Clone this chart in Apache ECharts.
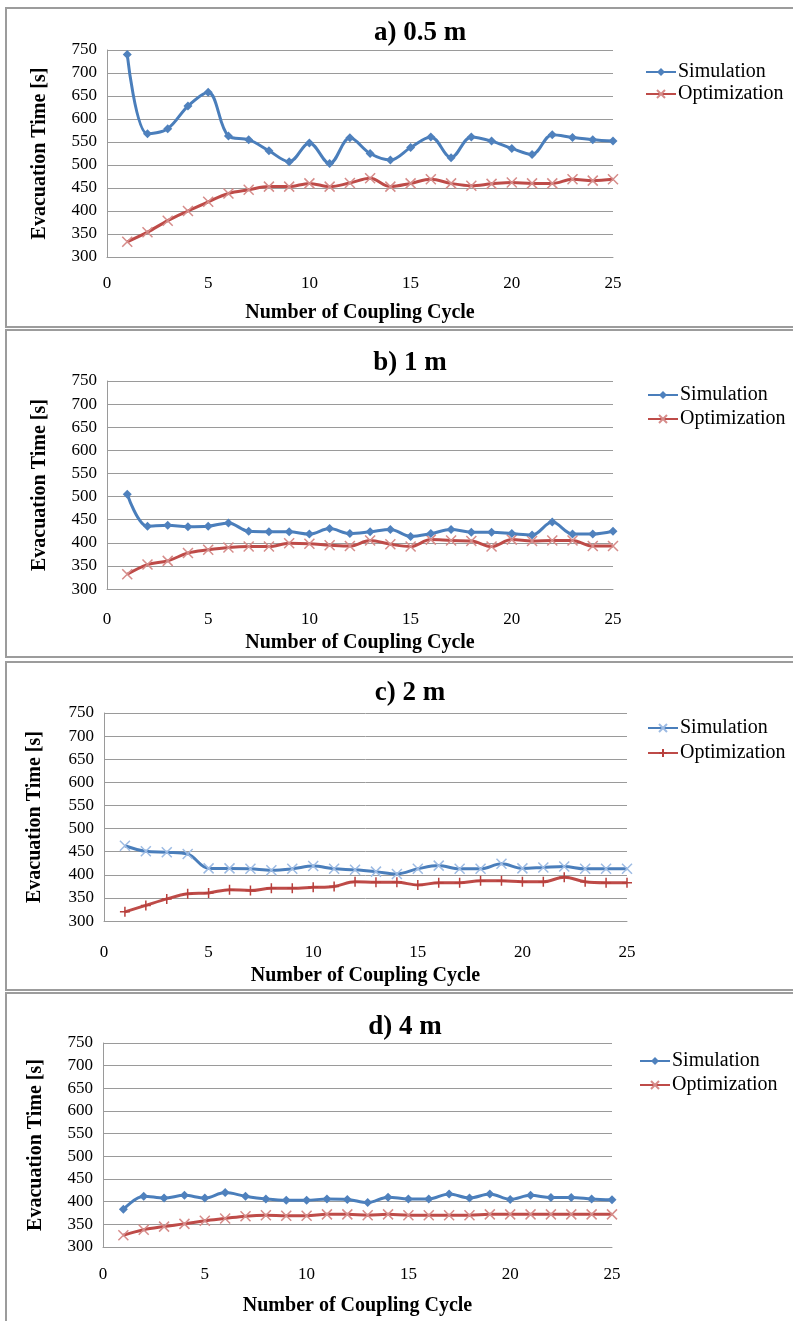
<!DOCTYPE html>
<html>
<head>
<meta charset="utf-8">
<script src="https://cdn.jsdelivr.net/npm/echarts@6/dist/echarts.min.js"></script>
<style>
html,body{margin:0;padding:0;background:#fff;}
body{width:793px;height:1321px;position:relative;overflow:hidden;}
.panel{position:absolute;left:0;width:793px;}
</style>
</head>
<body>
<div id="pa" class="panel"></div>
<div id="pb" class="panel"></div>
<div id="pc" class="panel"></div>
<div id="pd" class="panel"></div>
<script>
// ---- data ----
const cycles = [1,2,3,4,5,6,7,8,9,10,11,12,13,14,15,16,17,18,19,20,21,22,23,24,25];
const xTicks = [0,5,10,15,20,25];
const yTicks = [300,350,400,450,500,550,600,650,700,750];
const panelTitles = ['a) 0.5 m','b) 1 m','c) 2 m','d) 4 m'];
const seriesNames = ['Simulation','Optimization'];
const xAxisTitle = 'Number of Coupling Cycle';
const yAxisTitle = 'Evacuation Time [s]';

const simA = [740,568,579,628,658,563,555,531,507,548,503,559,525,511,538,561,516,561,552,536,523,566,560,555,552];
const optA = [333,354,379,400,420,438,446,453,453,460,453,461,471,453,460,469,460,455,459,462,460,460,469,466,469];
const simB = [505,436,438,435,436,443,425,424,424,419,431,420,424,429,414,420,429,423,423,420,417,445,419,419,425];
const optB = [332,353,361,378,385,390,392,392,399,398,395,393,405,397,392,407,405,404,392,407,404,405,405,393,393];
const simC = [463,451,449,445,414,414,413,410,413,419,413,411,407,402,413,420,413,413,424,414,416,418,413,413,413];
const optC = [320,334,348,359,361,368,366,371,371,373,375,385,384,384,378,383,383,387,387,385,385,395,385,383,383];
const simD = [383,412,408,414,408,420,412,406,403,403,406,405,398,410,406,406,417,408,417,405,414,409,409,406,404];
const optD = [326,338,345,351,358,363,368,370,369,369,372,372,370,372,370,370,370,370,372,372,372,372,372,372,372];

// ---- styling / layout ----
const SERIF = "'Liberation Serif','Times New Roman',serif";
const BLUE = '#4A7EBB', BLUE_MK = '#4F81BD', BLUE_LIGHT = '#9DBBE3';
const RED = '#BE4B48', RED_MK = '#D68C8A', RED_DARK = '#B8403D';
const GRID_C = '#9A9A9A';
const SYM_X = 'path://M0,0L10,10M10,0L0,10';
const SYM_PLUS = 'path://M5,0L5,10M0,5L10,5';

const layouts = [
  {id:'pa', T:7,   H:321, gt:50,   gb:257,  gl:107, gr:613, tx:415, ty:30,   xl:284,  xt:313,  yt:40, lx:640, ly:67,   lg:22, sim:simA, opt:optA, simSym:'diamond', optSym:SYM_X},
  {id:'pb', T:329, H:329, gt:381,  gb:599,  gl:107, gr:613, tx:405, ty:360,  xl:630,  xt:647,  yt:40, lx:642, ly:390,  lg:24, sim:simB, opt:optB, simSym:'diamond', optSym:SYM_X},
  {id:'pc', T:661, H:330, gt:713,  gb:923,  gl:104, gr:627, tx:405, ty:690,  xl:955,  xt:977,  yt:35, lx:642, ly:723,  lg:25, sim:simC, opt:optC, simSym:SYM_X,     optSym:SYM_PLUS},
  {id:'pd', T:992, H:329, gt:1043, gb:1251, gl:103, gr:612, tx:400, ty:1024, xl:1279, xt:1310, yt:36, lx:634, ly:1056, lg:24, sim:simD, opt:optD, simSym:'diamond', optSym:SYM_X}
];

function pairs(vals){ return cycles.map((c,i)=>[c, vals[i]]); }

function symStyle(sym, fill, stroke){
  if (sym === 'diamond') return {color: fill, borderWidth: 0};
  return {color: fill, borderColor: stroke, borderWidth: 1.5};
}

layouts.forEach((L, idx) => {
  const el = document.getElementById(L.id);
  el.style.top = L.T + 'px';
  el.style.height = L.H + 'px';
  const chart = echarts.init(el, null, {renderer:'canvas', width:793, height:L.H});
  const simMarkStroke = L.simSym === SYM_X ? BLUE_LIGHT : BLUE_MK;
  const optMarkStroke = L.optSym === SYM_PLUS ? RED_DARK : RED_MK;
  chart.setOption({
    animation: false,
    backgroundColor: '#fff',
    graphic: [{
      type: 'rect', silent: true,
      shape: {x: 6, y: 1, width: 820, height: (idx === 3 ? L.H + 20 : L.H - 2)},
      style: {fill: 'none', stroke: '#9C9C9C', lineWidth: 2}
    }],
    title: {
      text: panelTitles[idx],
      left: L.tx, top: L.ty - L.T - 15,
      textAlign: 'center',
      textStyle: {fontFamily: SERIF, fontWeight: 'bold', fontSize: 27, color: '#000'}
    },
    legend: {
      orient: 'vertical',
      left: L.lx, top: L.ly - L.T - 10,
      itemWidth: 30, itemHeight: 10, itemGap: L.lg - 20,
      textStyle: {fontFamily: SERIF, fontSize: 20, color: '#000', padding: [0,0,0,-3]},
      data: seriesNames
    },
    grid: {left: L.gl, top: L.gt - L.T, width: L.gr - L.gl, height: L.gb - L.gt},
    xAxis: {
      type: 'value', min: xTicks[0], max: xTicks[xTicks.length-1], interval: xTicks[1]-xTicks[0],
      axisLine: {show: true, lineStyle: {color: GRID_C, width: 1}},
      axisTick: {show: false},
      splitLine: {show: false},
      axisLabel: {margin: L.xl - L.gb - 9, fontFamily: SERIF, fontSize: 17, color: '#000'},
      name: xAxisTitle, nameLocation: 'middle', nameGap: L.xt - L.gb - 10,
      nameTextStyle: {fontFamily: SERIF, fontWeight: 'bold', fontSize: 20, color: '#000'}
    },
    yAxis: {
      type: 'value', min: yTicks[0], max: yTicks[yTicks.length-1], interval: yTicks[1]-yTicks[0],
      axisLine: {show: true, lineStyle: {color: GRID_C, width: 1}},
      axisTick: {show: false},
      splitLine: {show: true, lineStyle: {color: GRID_C, width: 1}},
      axisLabel: {margin: 10, fontFamily: SERIF, fontSize: 17, color: '#000'},
      name: yAxisTitle, nameLocation: 'middle', nameGap: L.gl - L.yt - 10,
      nameTextStyle: {fontFamily: SERIF, fontWeight: 'bold', fontSize: 20, color: '#000'}
    },
    series: [
      {
        name: seriesNames[0], type: 'line', data: pairs(L.sim), smooth: 0.35,
        symbol: L.simSym, symbolSize: L.simSym === 'diamond' ? 9 : 10,
        lineStyle: {color: BLUE, width: 3},
        itemStyle: symStyle(L.simSym, BLUE_MK, simMarkStroke),
        z: 3
      },
      {
        name: seriesNames[1], type: 'line', data: pairs(L.opt), smooth: 0.35,
        symbol: L.optSym, symbolSize: 10,
        lineStyle: {color: RED, width: 3},
        itemStyle: symStyle(L.optSym, RED, optMarkStroke),
        z: 2
      }
    ]
  });
});
</script>
</body>
</html>
